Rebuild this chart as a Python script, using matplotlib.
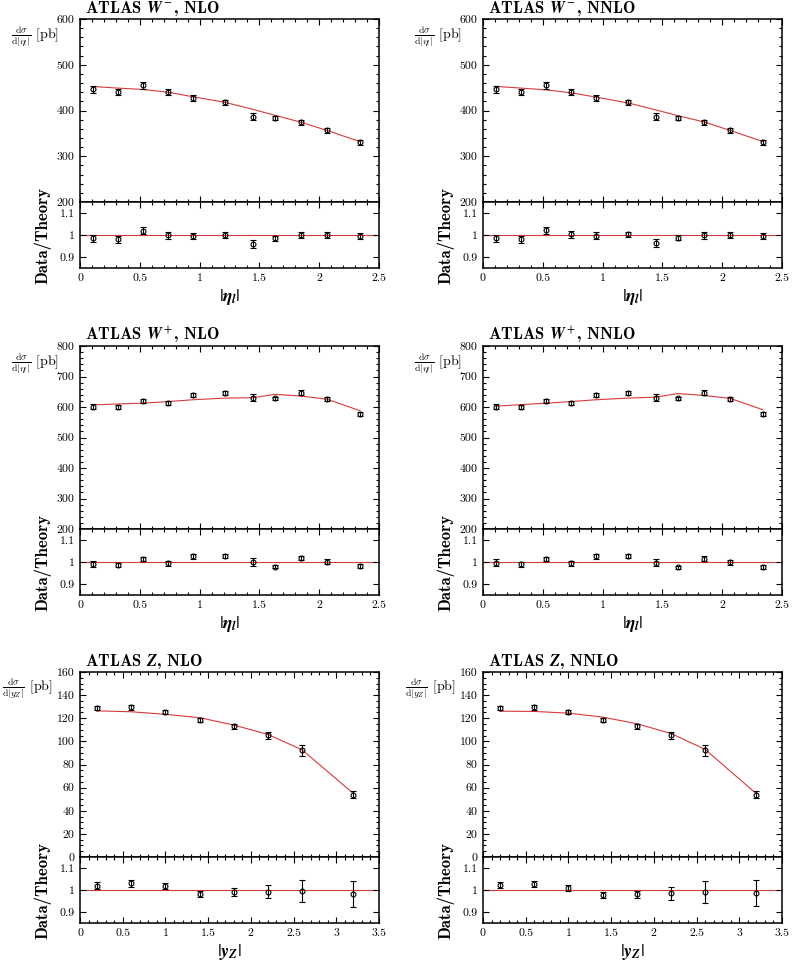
import numpy as np
import matplotlib.pyplot as plt
from matplotlib.ticker import MultipleLocator, FuncFormatter

plt.rcParams['font.family'] = 'serif'
plt.rcParams['font.serif'] = ['cmr10']
plt.rcParams['mathtext.fontset'] = 'cm'
plt.rcParams['axes.formatter.use_mathtext'] = True

# ATLAS W bins in |eta_l|
eta_w = [0.105, 0.315, 0.525, 0.735, 0.945, 1.21, 1.445, 1.63, 1.845, 2.065, 2.34]

wm_data = [446, 440, 455, 440, 428, 418, 386.5, 383.5, 374.5, 356.5, 330.5]
wm_err = [7, 7, 7, 7, 6.5, 5, 7, 4.5, 5.5, 5, 5]
wm_nlo = [452.5, 449, 446, 440, 430, 418, 402.5, 389.5, 374.5, 356.5, 332]
wm_nnlo = [452.8, 449, 445.2, 438.7, 429.3, 416.7, 401.4, 388.6, 375.2, 356.5, 332.2]

wp_data = [601, 601, 620, 614, 640, 645.5, 630.5, 628, 647.5, 627, 577.5]
wp_err = [9, 6, 6, 7, 7, 6, 11, 5, 7, 6, 6]
wp_nlo = [606.5, 610, 612.6, 617.7, 623.8, 629.1, 630.5, 641.5, 636, 625.7, 588]
wp_nnlo = [602.8, 607.7, 612.6, 617.7, 623.8, 629.1, 632.4, 644.1, 637.9, 628.3, 591.1]

# ATLAS Z bins in |y_Z|
y_z = [0.2, 0.6, 1.0, 1.4, 1.8, 2.2, 2.6, 3.2]
z_data = [128.9, 129.4, 125.6, 118.3, 113.0, 105.2, 92.2, 53.9]
z_err = [1.9, 1.9, 1.9, 1.6, 1.9, 3.2, 4.6, 3.3]
z_nlo = [126.4, 125.6, 123.4, 120.5, 114.1, 106.0, 92.7, 54.9]
z_nnlo = [126.1, 125.9, 124.4, 121.0, 115.3, 106.8, 93.1, 54.7]

W, H = 793, 968
RED = '#d93a3a'
fmt = FuncFormatter(lambda v, p: f'{v:g}')


def style(ax):
    ax.tick_params(which='both', direction='in', top=True, right=True,
                   labelsize=8.5, width=0.8, pad=4)
    ax.tick_params(which='major', length=4)
    ax.tick_params(which='minor', length=2)
    for s in ax.spines.values():
        s.set_linewidth(1.1)


def panel(left, top, mid, bot, x, data, err, theo, title, ylab, xlab,
          ylim, ymaj, ymin, xmax):
    w = 299
    ax = fig.add_axes([left / W, 1 - mid / H, w / W, (mid - top) / H])
    rx = fig.add_axes([left / W, 1 - bot / H, w / W, (bot - mid) / H], sharex=ax)
    x = np.array(x)
    data = np.array(data)
    err = np.array(err)
    theo = np.array(theo)

    ax.plot(x, theo, color=RED, lw=0.8, zorder=1)
    ax.errorbar(x, data, yerr=err, fmt='o', ms=3.5, mfc='none', mec='black',
                mew=0.8, ecolor='black', elinewidth=0.8, capsize=2, capthick=0.8,
                zorder=2)
    ax.set_ylim(*ylim)
    ax.set_xlim(0, xmax)
    ax.yaxis.set_major_locator(MultipleLocator(ymaj))
    ax.yaxis.set_minor_locator(MultipleLocator(ymin))
    ax.xaxis.set_major_locator(MultipleLocator(0.5))
    ax.xaxis.set_minor_locator(MultipleLocator(0.1))
    ax.yaxis.set_major_formatter(fmt)
    style(ax)
    ax.tick_params(labelbottom=False)

    rx.axhline(1, color=RED, lw=0.8, zorder=1)
    rx.errorbar(x, data / theo, yerr=err / theo, fmt='o', ms=3.5, mfc='none',
                mec='black', mew=0.8, ecolor='black', elinewidth=0.8, capsize=2,
                capthick=0.8, zorder=2)
    rx.set_ylim(0.85, 1.15)
    rx.set_yticks([0.9, 1.0, 1.1])
    rx.yaxis.set_major_formatter(fmt)
    rx.xaxis.set_major_formatter(fmt)
    style(rx)

    ax.text(5 / w, 1 + 6 / (mid - top), title, transform=ax.transAxes,
            ha='left', va='baseline', fontsize=12, family='cmb10',
            math_fontfamily='stix')
    off = 27 if ylim[1] < 200 else 21
    ax.text(-off / w, 1 - 17 / (mid - top), ylab, transform=ax.transAxes,
            ha='right', va='center', fontsize=10)
    rx.text(-37 / w, 0.5, 'Data/Theory', transform=rx.transAxes, rotation=90,
            ha='center', va='center', fontsize=12, family='cmb10')
    rx.set_xlabel(xlab, fontsize=13, labelpad=3, math_fontfamily='stix')


fig = plt.figure(figsize=(W / 100, H / 100), dpi=100)

lab_eta = r'$\frac{\mathrm{d}\sigma}{\mathrm{d}|\eta_l|}$ [pb]'
lab_y = r'$\frac{\mathrm{d}\sigma}{\mathrm{d}|y_Z|}$ [pb]'
xl_eta = r'$|\mathbfit{\eta}_\mathbfit{l}|$'
xl_y = r'$|\mathbfit{y}_\mathbfit{Z}|$'

rows = [
    (19, 202, 268, eta_w, wm_data, wm_err, wm_nlo, wm_nnlo, r'$\mathbfit{W}^-$',
     lab_eta, xl_eta, (200, 600), 100, 20, 2.5),
    (346, 529, 595, eta_w, wp_data, wp_err, wp_nlo, wp_nnlo, r'$\mathbfit{W}^+$',
     lab_eta, xl_eta, (200, 800), 100, 20, 2.5),
    (672, 857, 923, y_z, z_data, z_err, z_nlo, z_nnlo, r'$\mathbfit{Z}$',
     lab_y, xl_y, (0, 160), 20, 5, 3.5),
]

for top, mid, bot, x, d, e, nlo, nnlo, boson, ylab, xlab, ylim, ymaj, ymin, xmax in rows:
    panel(80, top, mid, bot, x, d, e, nlo, f'ATLAS {boson}, NLO', ylab, xlab,
          ylim, ymaj, ymin, xmax)
    panel(483, top, mid, bot, x, d, e, nnlo, f'ATLAS {boson}, NNLO', ylab, xlab,
          ylim, ymaj, ymin, xmax)

fig.savefig('out.png', dpi=100)
